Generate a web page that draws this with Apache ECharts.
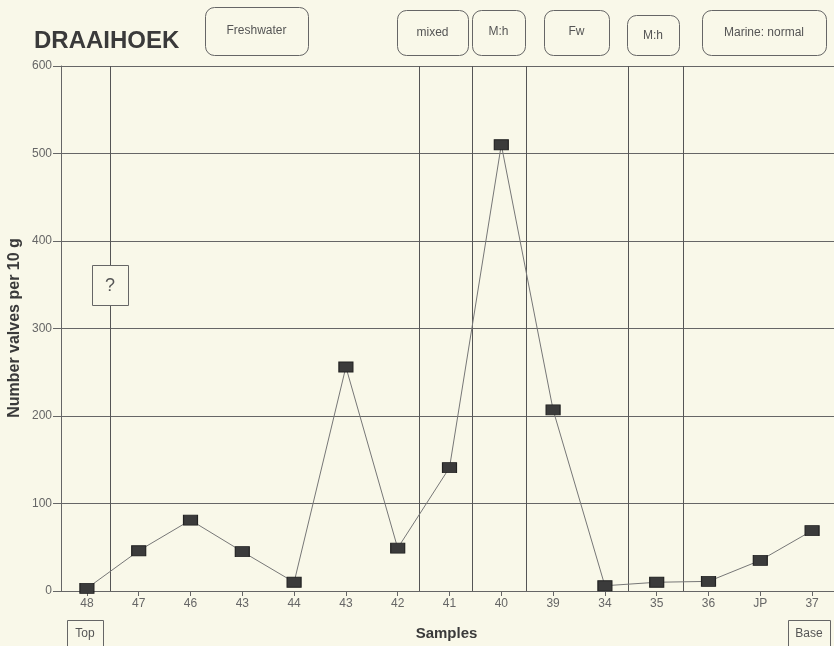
<!DOCTYPE html>
<html>
<head>
<meta charset="utf-8">
<script src="https://cdn.jsdelivr.net/npm/echarts@6/dist/echarts.min.js"></script>
<style>
html,body{margin:0;padding:0;background:#f9f8e9;}
#chart{width:834px;height:646px;}
</style>
</head>
<body>
<div id="chart"></div>
<script>
// Data
var samples = ['48','47','46','43','44','43','42','41','40','39','34','35','36','JP','37'];
var valves = [3, 46, 81, 45, 10, 256, 49, 141, 510, 207, 6, 10, 11, 35, 69];
var yTicks = [0, 100, 200, 300, 400, 500, 600];
// Facies boundaries between samples (in sample-index units)
var boundaries = [0.45, 6.42, 7.44, 8.48, 10.45, 11.51];
var faciesLabels = ['Freshwater', 'mixed', 'M:h', 'Fw', 'M:h', 'Marine: normal'];
var yAxisTitle = 'Number valves per 10 g';

var bg = '#f9f8e9';
var FONT = '"Liberation Sans", Arial, sans-serif';
var chart = echarts.init(document.getElementById('chart'));

var boxes = [
  {x:205, y:7,  w:103, h:48, cy:31},
  {x:397, y:10, w:71,  h:45, cy:33},
  {x:472, y:10, w:53,  h:45, cy:32},
  {x:544, y:10, w:65,  h:45, cy:32},
  {x:627, y:15, w:52,  h:40, cy:36},
  {x:702, y:10, w:124, h:45, cy:33}
];
function txt(s, x, y, size){
  return {type:'text', x:x, y:y, z:11,
    style:{text:s, fill:'#555', font:size + 'px ' + FONT, align:'center', verticalAlign:'middle', textAlign:'center', textVerticalAlign:'middle'}};
}
var graphics = [];
boxes.forEach(function(b, i){
  graphics.push({type:'rect', shape:{x:b.x + 0.5, y:b.y + 0.5, width:b.w, height:b.h, r:9},
    style:{fill:'none', stroke:'#666', lineWidth:1}, z:10});
  graphics.push(txt(faciesLabels[i], b.x + b.w/2, b.cy, 12));
});
// ? box
graphics.push({type:'rect', shape:{x:92.5, y:265.5, width:36, height:40},
  style:{fill:bg, stroke:'#666', lineWidth:1}, z:10});
graphics.push(txt('?', 110, 286, 18));
// Top / Base boxes
graphics.push({type:'rect', shape:{x:67.5, y:620.5, width:36, height:30},
  style:{fill:'none', stroke:'#666', lineWidth:1}, z:10});
graphics.push(txt('Top', 85, 634, 12));
graphics.push({type:'rect', shape:{x:788.5, y:620.5, width:42, height:30},
  style:{fill:'none', stroke:'#666', lineWidth:1}, z:10});
graphics.push(txt('Base', 809, 634, 12));
// Y axis title (rotated)
graphics.push({type:'text', x:14.5, y:328, rotation: Math.PI/2, z:11,
  style:{text:yAxisTitle, fill:'#3a3a3a', font:'bold 16px ' + FONT, align:'center', verticalAlign:'middle', textAlign:'center', textVerticalAlign:'middle'}});

var option = {
  backgroundColor: bg,
  animation: false,
  title: {
    text: 'DRAAIHOEK', left: 29, top: 24,
    textStyle: {fontFamily: FONT, fontSize: 24, fontWeight: 'bold', color: '#3a3a3a'}
  },
  grid: {left: 61, top: 66, width: 777, height: 525, containLabel: false, outerBoundsMode: 'none'},
  xAxis: [{
    type: 'category',
    data: samples,
    boundaryGap: true,
    name: 'Samples',
    nameLocation: 'middle',
    nameGap: 35,
    nameMoveOverlap: false,
    nameTextStyle: {fontFamily: FONT, fontSize: 15, fontWeight: 'bold', color: '#3a3a3a', padding: [0, 6, 0, 0]},
    axisLine: {show: true, onZero: false, lineStyle: {color: '#666', width: 1}},
    axisTick: {show: true, alignWithLabel: true, length: 5, lineStyle: {color: '#666'}},
    axisLabel: {color: '#666', fontSize: 12, margin: 7, interval: 0, fontFamily: FONT},
    splitLine: {show: false}
  }, {
    type: 'value', min: -0.5, max: 14.5, show: false, position: 'bottom',
    axisLine: {onZero: false},
    splitLine: {show: false}
  }],
  yAxis: {
    type: 'value', min: yTicks[0], max: yTicks[yTicks.length-1], interval: 100,
    axisLine: {show: true, onZero: false, lineStyle: {color: '#666', width: 1}},
    axisTick: {show: true, length: 8, lineStyle: {color: '#666'}},
    axisLabel: {color: '#666', fontSize: 12, margin: 9, fontFamily: FONT},
    splitLine: {show: true, lineStyle: {color: '#666', width: 1}}
  },
  series: [{
    type: 'line',
    data: valves,
    symbol: 'rect',
    symbolSize: [14, 10],
    showAllSymbol: true,
    lineStyle: {color: '#777', width: 1},
    itemStyle: {color: '#3b3b3b', borderColor: '#222', borderWidth: 1},
    z: 5
  }, {
    type: 'line',
    xAxisIndex: 1,
    data: [],
    silent: true,
    markLine: {
      symbol: ['none', 'none'],
      silent: true,
      label: {show: false},
      lineStyle: {color: '#555', width: 1, type: 'solid'},
      data: boundaries.map(function(b){ return {xAxis: b}; })
    },
    z: 3
  }],
  graphic: graphics
};
chart.setOption(option);
</script>
</body>
</html>
